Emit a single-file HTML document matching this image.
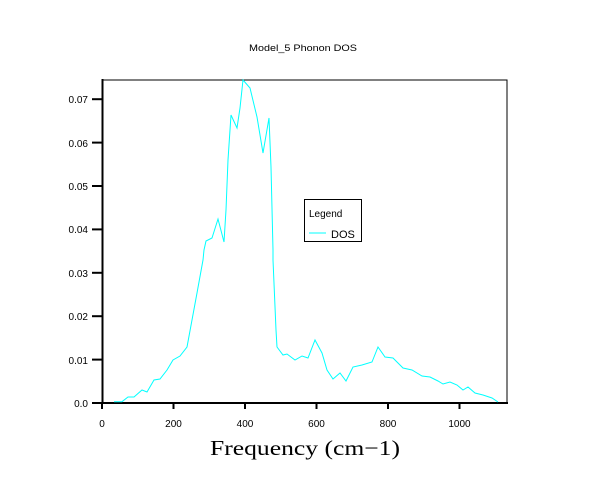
<!DOCTYPE html>
<html><head><style>body{margin:0;background:#fff}svg{display:block}</style></head><body>
<svg width="600" height="481" xmlns="http://www.w3.org/2000/svg" font-family="Liberation Sans, sans-serif">
<rect width="600" height="481" fill="#fff"/>
<text x="249" y="51" font-size="9" textLength="108" lengthAdjust="spacingAndGlyphs">Model_5 Phonon DOS</text>
<rect x="102" y="80" width="405" height="323" fill="none" stroke="#000" stroke-width="1"/>
<line x1="102.5" y1="79" x2="102.5" y2="404" stroke="#000" stroke-width="2"/>
<line x1="101" y1="403" x2="508" y2="403" stroke="#000" stroke-width="2"/>
<g stroke="#000" stroke-width="2">
<line x1="92" y1="403" x2="102" y2="403"/><line x1="92" y1="359.6" x2="102" y2="359.6"/>
<line x1="92" y1="316.2" x2="102" y2="316.2"/><line x1="92" y1="272.8" x2="102" y2="272.8"/>
<line x1="92" y1="229.4" x2="102" y2="229.4"/><line x1="92" y1="186" x2="102" y2="186"/>
<line x1="92" y1="142.6" x2="102" y2="142.6"/><line x1="92" y1="99.2" x2="102" y2="99.2"/>
<line x1="102" y1="403" x2="102" y2="409"/><line x1="173.5" y1="403" x2="173.5" y2="409"/>
<line x1="245" y1="403" x2="245" y2="409"/><line x1="316.5" y1="403" x2="316.5" y2="409"/>
<line x1="388" y1="403" x2="388" y2="409"/><line x1="459.5" y1="403" x2="459.5" y2="409"/>
</g>
<g font-size="10" text-anchor="end">
<text x="88" y="407">0.0</text><text x="88" y="364">0.01</text><text x="88" y="320">0.02</text>
<text x="88" y="277">0.03</text><text x="88" y="233">0.04</text><text x="88" y="190">0.05</text>
<text x="88" y="147">0.06</text><text x="88" y="103">0.07</text>
</g>
<g font-size="10" text-anchor="middle">
<text x="102" y="427">0</text><text x="173.5" y="427">200</text><text x="245" y="427">400</text>
<text x="316.5" y="427">600</text><text x="388" y="427">800</text><text x="459.5" y="427">1000</text>
</g>
<text x="210" y="455" font-size="21" textLength="190" lengthAdjust="spacingAndGlyphs" font-family="Liberation Serif, serif">Frequency (cm−1)</text>
<polyline fill="none" stroke="#00ffff" stroke-width="1" points="114,401.7 122,401.7 128,397 134,397 142,390 147,392 154,380 160,379 167,370 173,360 180,356 187,347 192,320 197,293 203,260 204,250 206,241 212,238 218,219 224,242 226,210 228,160 231,115 237,128 240,108 243,80 250,88 257,117 263,153 269,118 271,167 273,250 273,260 276,330 277,347 283,355 287,354 295,360 302,356 308,358 315,340 322,353 327,370 333,379 340,373 346,381 353,367 362,365 372,362 378,347 385,357 393,358 403,368 412,370 422,376 430,377 438,381 443,384 450,382 457,385 463,390 468,387 475,393 483,395 492,398 498,402"/>
<rect x="304.5" y="199.5" width="57" height="42" fill="#fff" stroke="#000" stroke-width="1"/>
<text x="309" y="217" font-size="10">Legend</text>
<line x1="309" y1="233" x2="326" y2="233" stroke="#00ffff"/>
<text x="331" y="238" font-size="11">DOS</text>
</svg>
</body></html>
